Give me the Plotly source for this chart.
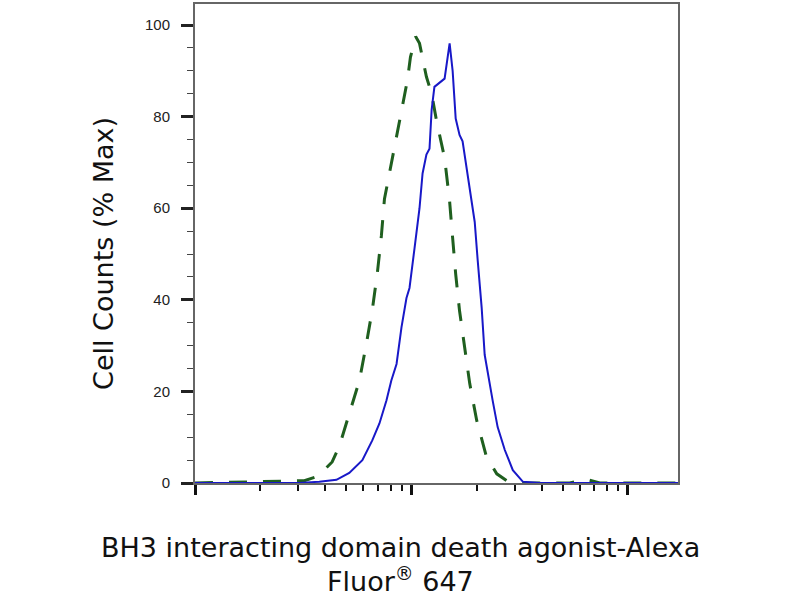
import plotly.graph_objects as go

# fluorescence intensity (log axis) and % of max for each histogram
isotype_x = [10, 24.5, 32.0, 37.1, 43.0, 46.4, 50.6, 57.5, 61.9, 66.0, 69.6, 72.6,
             75.0, 80.8, 88.0, 92.8, 95.8, 98.9, 104.5, 108.9, 112.5, 117.2, 123.9,
             130.6, 142.2, 150.0, 154.9, 160.0, 166.7, 175.8, 185.8, 200.0, 222.0,
             247.7, 275.0, 316.0, 538.0, 640.0, 741.0, 1702.0]
isotype_y = [0, 0.5, 0.5, 1.5, 4.6, 8, 14, 22.4, 30.4, 38, 46, 54,
             62, 70, 79, 85, 88, 93, 97.5, 96, 93, 88.7, 85,
             79, 71, 61.5, 53.5, 45.6, 37.6, 29.6, 21.7, 13.7, 5.7,
             2, 0.5, 0, 0, 0.8, 0, 0]

sample_x = [10, 30.3, 37.5, 45.0, 51.6, 59.3, 65.9, 71.1, 76.6, 80.7, 85.3, 89.9,
            94.8, 97.9, 103.3, 108.9, 112.5, 117.2, 121.1, 123.9, 127.6, 134.9,
            142.2, 150.0, 154.9, 160.0, 166.7, 172.2, 181.6, 195.9, 202.3, 210.9,
            217.8, 224.9, 237.1, 250.0, 269.8, 293.8, 326.6, 391.7, 1702.0]
sample_y = [0, 0, 0.3, 0.7, 2.2, 5, 9.3, 13, 18, 22.4, 26, 34,
            40.4, 42.6, 51.3, 60, 67.6, 71.7, 73, 81.5, 86.5, 87.5,
            88.3, 96, 90, 79.6, 76, 74.6, 67, 57, 48.5, 38.3,
            28, 24, 18, 12.2, 7.2, 2.8, 0.3, 0, 0]

y_ticks = [0, 20, 40, 60, 80, 100]
x_major = [10, 100, 1000]
x_minor = [m * d for d in (10, 100, 1000) for m in range(2, 10)]

y_title = "Cell Counts (% Max)"
x_title_1 = "BH3 interacting domain death agonist-Alexa"
x_title_2 = "Fluor<sup>®</sup> 647"

FONT = "Liberation Sans, Arial, sans-serif"
TITLE_FONT = dict(size=27, family="DejaVu Sans, sans-serif", color="#111")

# plot area in page pixels
L, R, T, B = 195, 678, 2, 483
W, H = R - L, B - T


def px_x(p):
    return (p - L) / W


def px_y(p):
    return (B - p) / H


fig = go.Figure()
fig.add_trace(go.Scatter(x=isotype_x, y=isotype_y, mode="lines",
                         line=dict(color="#1f5f1f", width=3, dash="18px,16px")))
fig.add_trace(go.Scatter(x=sample_x, y=sample_y, mode="lines",
                         line=dict(color="#1818c8", width=2)))

fig.update_layout(
    width=800, height=600,
    margin=dict(l=L, r=800 - R, t=T, b=600 - B),
    paper_bgcolor="white", plot_bgcolor="white",
    showlegend=False,
    font=dict(family=FONT, color="#222"),
)

fig.update_xaxes(
    type="log", range=[1, 3.231],
    showgrid=False, zeroline=False,
    showline=True, linecolor="#666", linewidth=2, mirror=True,
    tickmode="array", tickvals=x_major, showticklabels=False,
    ticks="outside", ticklen=10, tickwidth=3, tickcolor="#111",
    minor=dict(tickmode="array", tickvals=x_minor, ticks="outside",
               ticklen=6, tickwidth=1.5, tickcolor="#111"),
)
fig.update_yaxes(
    range=[0, 104.6],
    showgrid=False, zeroline=False,
    showline=True, linecolor="#666", linewidth=2, mirror=True,
    tickmode="array", tickvals=y_ticks,
    ticks="outside", ticklen=12, tickwidth=3, tickcolor="#222",
    ticklabelstandoff=8,
    tickfont=dict(size=15, family=FONT, color="#222"),
    minor=dict(dtick=5, ticks="outside", ticklen=6, tickwidth=1, tickcolor="#444"),
)

# axis titles
fig.add_annotation(text=y_title, textangle=-90,
                   xref="paper", yref="paper", x=px_x(104), y=px_y(253),
                   xanchor="center", yanchor="middle", showarrow=False,
                   font=TITLE_FONT)
fig.add_annotation(text=x_title_1,
                   xref="paper", yref="paper", x=px_x(400), y=px_y(548),
                   xanchor="center", yanchor="middle", showarrow=False,
                   font=TITLE_FONT)
fig.add_annotation(text=x_title_2,
                   xref="paper", yref="paper", x=px_x(400), y=px_y(580),
                   xanchor="center", yanchor="middle", showarrow=False,
                   font=TITLE_FONT)

fig.write_html("out.html", config={"displayModeBar": False},
               post_script="document.body.style.margin='0px';")
